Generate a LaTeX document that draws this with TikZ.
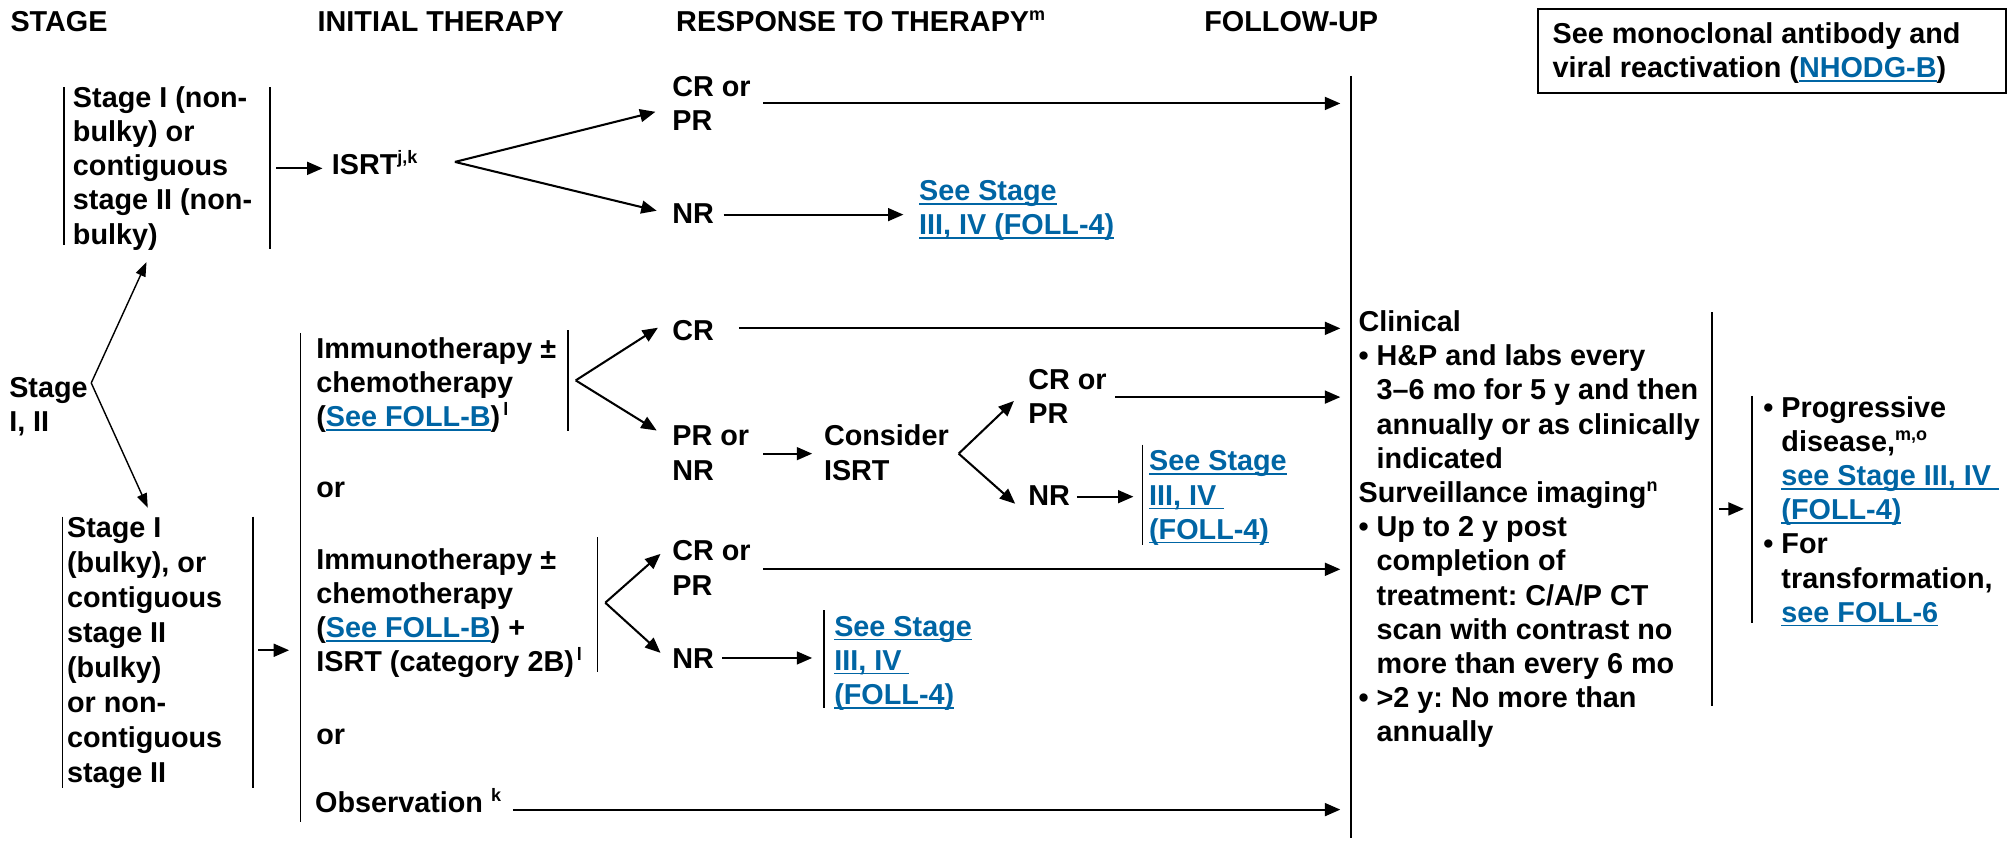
\documentclass[tikz,border=0pt]{standalone}
\usepackage{fontspec}
\setmainfont{Liberation Sans}
\usetikzlibrary{arrows.meta}
\definecolor{lnkblue}{RGB}{0,101,164}
\frenchspacing
% underlined blue cross-reference
\newsavebox\lnkbox
\newcommand\lnk[1]{\sbox\lnkbox{\color{lnkblue}#1}{\color{lnkblue}\rlap{\rule[-3.2pt]{\wd\lnkbox}{1.3pt}}}\usebox\lnkbox}
% footnote marks
\newcommand\sups[1]{\raisebox{0.72ex}[0pt][0pt]{\fontsize{14}{14}\selectfont #1}}
% stacked lines, baseline on the first line
\newcommand\blk[1]{\begin{tabular}[t]{@{}l@{}}#1\end{tabular}}
\newcommand\bodyfont{\fontsize{22.4}{26.6}\selectfont\bfseries\frenchspacing}
\newcommand\ind{\phantom{•\ }}
\begin{document}
\begin{tikzpicture}[x=1pt,y=-1pt,
  txt/.style={inner sep=0pt, anchor=base west, font=\bodyfont},
  arr/.style={line width=1.6pt, -{Triangle[length=12pt,width=10pt]}},
  farr/.style={line width=1.1pt, -{Triangle[length=11pt,width=8pt]}},
  bar/.style={line width=1.2pt},
  frame/.style={line width=1.6pt}]
\useasboundingbox (0,0) rectangle (1568,654.4);

% column headings
\node[txt] (hstage) at (8,24.5) {STAGE};
\node[txt] (hinit) at (247,24.5) {INITIAL THERAPY};
\node[txt] (hresp) at (526,24.5) {RESPONSE TO THERAPY\sups{m}};
\node[txt] (hfu) at (937,24.5) {FOLLOW-UP};

% note box
\draw[frame] (1197,7.3) rectangle (1561,72);
\node[txt] (note) at (1208,34) {\blk{See monoclonal antibody and\\viral reactivation (\lnk{NHODG-B})}};

% stage column
\node[txt] (stnb) at (56.6,83.5) {\blk{Stage I (non-\\bulky) or\\contiguous\\stage II (non-\\bulky)}};
\node[txt] (stall) at (7,309) {\blk{Stage\\I, II}};
\node[txt, font=\fontsize{22.4}{27.3}\selectfont\bfseries] (stbk) at (52,418)
  {\blk{Stage I\\(bulky), or\\contiguous\\stage II\\(bulky)\\or non-\\contiguous\\stage II}};

% initial therapy column
\node[txt] (isrt) at (258,136) {ISRT\sups{j,k}};
\node[txt] (im1) at (246,279) {\blk{Immunotherapy ±\\chemotherapy\\(\lnk{See FOLL-B})\sups{\,l}}};
\node[txt] (or1) at (246,387) {or};
\node[txt] (im2) at (246,443) {\blk{Immunotherapy ±\\chemotherapy\\(\lnk{See FOLL-B}) +\\ISRT (category 2B)\sups{\,l}}};
\node[txt] (or2) at (246,579) {or};
\node[txt] (obs) at (245,632) {Observation \sups{k}};

% response column
\node[txt] (crpr1) at (523,75) {\blk{CR or\\PR}};
\node[txt] (nr1) at (523,174) {NR};
\node[txt] (see1) at (715,156) {\blk{\lnk{See Stage}\\\lnk{III, IV (FOLL-4)}}};
\node[txt] (cr2) at (523,265) {CR};
\node[txt] (prnr) at (523,347) {\blk{PR or\\NR}};
\node[txt] (cons) at (641,347) {\blk{Consider\\ISRT}};
\node[txt] (crpr3) at (800,303) {\blk{CR or\\PR}};
\node[txt] (nr3) at (800,393) {NR};
\node[txt] (see3) at (894,366.5) {\blk{\lnk{See Stage}\\\lnk{III, IV\ }\\\lnk{(FOLL-4)}}};
\node[txt] (crpr4) at (523,436.5) {\blk{CR or\\PR}};
\node[txt] (nr4) at (523,520) {NR};
\node[txt] (see4) at (649,495) {\blk{\lnk{See Stage}\\\lnk{III, IV\ }\\\lnk{(FOLL-4)}}};

% follow-up column
\node[txt] (fu) at (1057,258) {\blk{Clinical\\
• H\&P and labs every\\
\ind 3--6 mo for 5 y and then\\
\ind annually or as clinically\\
\ind indicated\\
Surveillance imaging\sups{n}\\
• Up to 2 y post\\
\ind completion of\\
\ind treatment: C/A/P CT\\
\ind scan with contrast no\\
\ind more than every 6 mo\\
• >2 y: No more than\\
\ind annually}};
\node[txt] (prog) at (1372,324.6) {\blk{• Progressive\\
\ind disease,\sups{m,o}\\
\ind \lnk{see Stage III, IV\ }\\
\ind \lnk{(FOLL-4)}\\
• For\\
\ind transformation,\\
\ind \lnk{see FOLL-6}}};

% bracket bars
\draw[bar] (49.7,68) -- (49.7,191);
\draw[bar] (210,68) -- (210,194);
\draw[bar] (48.6,402) -- (48.6,613);
\draw[bar] (197,402) -- (197,613);
\draw[bar] (234,259) -- (234,640);
\draw[bar] (442,257) -- (442,335);
\draw[bar] (465,418) -- (465,523);
\draw[bar] (889,346) -- (889,424);
\draw[bar] (641,475) -- (641,551);
\draw[bar] (1332,243) -- (1332,549);
\draw[bar] (1363.5,308) -- (1363.5,485);
\coordinate (fuTop) at (1051,59);
\coordinate (fuBot) at (1051,652);
\draw[line width=1.5pt] (fuTop) -- (fuBot);

% branch points and arrow ends
\coordinate (kStage) at (71,298);
\coordinate (kIsrt) at (354,126);
\coordinate (kIm1) at (448,296);
\coordinate (kCons) at (746,353);
\coordinate (kIm2) at (471,469);

\coordinate (tNb) at (114,204);
\coordinate (tBk) at (115,395);
\draw[farr] (kStage) -- (tNb);
\draw[farr] (kStage) -- (tBk);

\coordinate (sNb) at (215,131);
\coordinate (eNb) at (251,131);
\draw[arr] (sNb) -- (eNb);
\coordinate (sBk) at (201,506);
\coordinate (eBk) at (225,506);
\draw[arr] (sBk) -- (eBk);

\coordinate (tCrpr1) at (510,87);
\coordinate (tNr1) at (511,164);
\draw[arr] (kIsrt) -- (tCrpr1);
\draw[arr] (kIsrt) -- (tNr1);
\coordinate (sCrpr1) at (594,80.5);
\coordinate (sNr1) at (563,167);
\coordinate (eNr1) at (703,167);
\draw[arr] (sNr1) -- (eNr1);

\coordinate (tCr2) at (512,255);
\coordinate (tPrnr) at (511,335);
\draw[arr] (kIm1) -- (tCr2);
\draw[arr] (kIm1) -- (tPrnr);
\coordinate (sCr2) at (575,255.5);
\coordinate (sPrnr) at (594,353);
\coordinate (eCons) at (632,353);
\draw[arr] (sPrnr) -- (eCons);

\coordinate (tCrpr3) at (789,312);
\coordinate (tNr3) at (790,392);
\draw[arr] (kCons) -- (tCrpr3);
\draw[arr] (kCons) -- (tNr3);
\coordinate (sCrpr3) at (868,309);
\coordinate (sNr3) at (838,386.5);
\coordinate (eNr3) at (882,386.5);
\draw[arr] (sNr3) -- (eNr3);

\coordinate (tCrpr4) at (514,431);
\coordinate (tNr4) at (514,508);
\draw[arr] (kIm2) -- (tCrpr4);
\draw[arr] (kIm2) -- (tNr4);
\coordinate (sCrpr4) at (594,443);
\coordinate (sNr4) at (562,512);
\coordinate (eNr4) at (632,512);
\draw[arr] (sNr4) -- (eNr4);

\coordinate (sObs) at (399,630);

% arrows into the follow-up bar
\foreach \s in {sCrpr1,sCr2,sCrpr3,sCrpr4,sObs}
  \draw[arr, shorten >=8pt] (\s) -- (\s -| fuTop);

\coordinate (sFu) at (1338,396);
\coordinate (eFu) at (1357,396);
\draw[arr] (sFu) -- (eFu);
\end{tikzpicture}
\end{document}
